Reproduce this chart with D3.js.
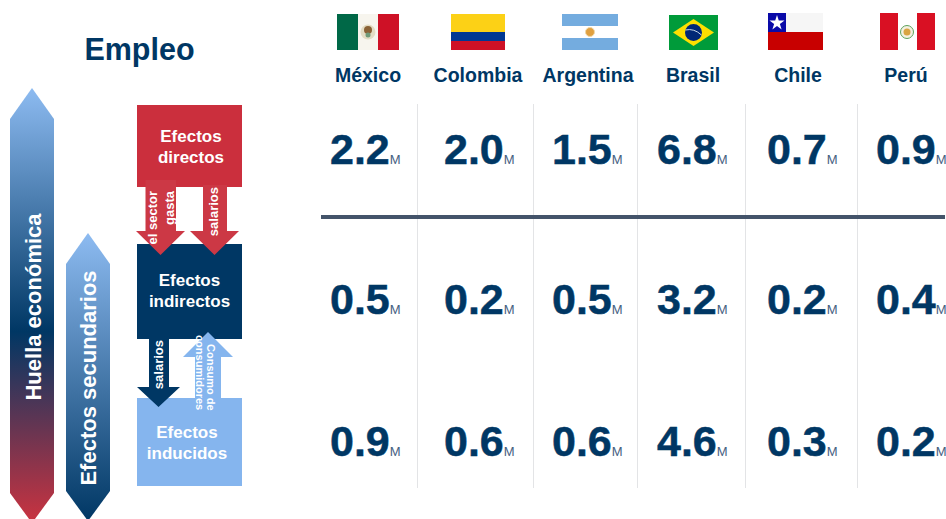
<!DOCTYPE html>
<html>
<head>
<meta charset="utf-8">
<script src="https://cdn.jsdelivr.net/npm/d3@7"></script>
<style>
  html, body { margin: 0; padding: 0; background: #fff; }
  svg { display: block; font-family: "Liberation Sans", Arial, sans-serif; }
  text { font-weight: bold; }
</style>
</head>
<body>
<div id="container"></div>
<script>
let w = 946;
let h = 519;

// data
let countries = ["México", "Colombia", "Argentina", "Brasil", "Chile", "Perú"];
let directos = [2.2, 2.0, 1.5, 6.8, 0.7, 0.9];
let indirectos = [0.5, 0.2, 0.5, 3.2, 0.2, 0.4];
let inducidos = [0.9, 0.6, 0.6, 4.6, 0.3, 0.2];
let rows = ["directos", "indirectos", "inducidos"];
let rowValues = [directos, indirectos, inducidos];

let navy = "#003764";
let red = "#cb2f3d";
let light = "#85b5ee";

// layout
let labelScale = d3.scaleOrdinal().domain(countries).range([368, 478, 588, 693, 798, 906]);
let valueScale = d3.scaleOrdinal().domain(countries).range([330, 444, 552, 657, 767, 876]);
let rowScale = d3.scaleOrdinal().domain(rows).range([164, 314, 456]);

let viz = d3.select("#container").append("svg")
    .attr("width", w)
    .attr("height", h)
    .style("background-color", "white")
;

let defs = viz.append("defs");
let g1 = defs.append("linearGradient").attr("id", "huella").attr("x1", 0).attr("x2", 0).attr("y1", 0).attr("y2", 1);
g1.append("stop").attr("offset", "0%").attr("stop-color", "#8dbbf1");
g1.append("stop").attr("offset", "56%").attr("stop-color", navy);
g1.append("stop").attr("offset", "100%").attr("stop-color", "#cb3340");
let g2 = defs.append("linearGradient").attr("id", "secundarios").attr("x1", 0).attr("x2", 0).attr("y1", 0).attr("y2", 1);
g2.append("stop").attr("offset", "0%").attr("stop-color", "#8dbbf1");
g2.append("stop").attr("offset", "100%").attr("stop-color", navy);

let line = d3.line();

// arrow pointing both ways
function doubleArrow(x0, x1, top, shoulderTop, shoulderBottom, tip){
  let mid = (x0 + x1) / 2;
  return line([[mid, top], [x1, shoulderTop], [x1, shoulderBottom], [mid, tip], [x0, shoulderBottom], [x0, shoulderTop]]) + "Z";
}

// block arrow, goes from y0 to the tip at y1
function blockArrow(s0, s1, h0, h1, y0, yShoulder, y1){
  let mid = (h0 + h1) / 2;
  return line([[s0, y0], [s1, y0], [s1, yShoulder], [h1, yShoulder], [mid, y1], [h0, yShoulder], [s0, yShoulder]]) + "Z";
}

viz.append("path").attr("d", doubleArrow(10, 54, 88, 119, 493, 523)).attr("fill", "url(#huella)");
viz.append("path").attr("d", doubleArrow(66, 110, 233, 264, 491, 521)).attr("fill", "url(#secundarios)");

function verticalText(x, y, angle, str, size, anchor, fill){
  viz.append("text")
    .attr("transform", "translate(" + x + "," + y + ") rotate(" + angle + ")")
    .attr("text-anchor", anchor)
    .attr("font-size", size)
    .attr("fill", fill || "white")
    .text(str);
}

verticalText(41, 307, -90, "Huella económica", 22, "middle");
verticalText(96, 378, -90, "Efectos secundarios", 22, "middle");

viz.append("text")
  .attr("x", 139.5)
  .attr("y", 60)
  .attr("text-anchor", "middle")
  .attr("font-size", 30.5)
  .attr("fill", navy)
  .text("Empleo");

// boxes
viz.append("rect").attr("x", 137).attr("y", 105).attr("width", 105).attr("height", 82).attr("fill", red);
viz.append("rect").attr("x", 137).attr("y", 244).attr("width", 105).attr("height", 95).attr("fill", navy);
viz.append("rect").attr("x", 137).attr("y", 398).attr("width", 105).attr("height", 88).attr("fill", light);

function boxText(cx, y, str){
  viz.append("text")
    .attr("x", cx)
    .attr("y", y)
    .attr("text-anchor", "middle")
    .attr("font-size", 17)
    .attr("fill", "white")
    .text(str);
}
boxText(191, 142, "Efectos");
boxText(191, 163, "directos");
boxText(189.5, 286, "Efectos");
boxText(189.5, 307, "indirectos");
boxText(187, 438, "Efectos");
boxText(187, 459, "inducidos");

// small arrows between boxes
viz.append("path").attr("d", blockArrow(145.5, 176, 136, 185, 180, 231, 255)).attr("fill", "#cc3845");
viz.append("path").attr("d", blockArrow(203, 227, 190, 239, 185, 231, 255)).attr("fill", "#cc3845");
viz.append("path").attr("d", blockArrow(149, 169, 137, 180, 339, 387, 407)).attr("fill", navy);
viz.append("path").attr("d", blockArrow(195, 221, 183, 233, 398, 357, 332)).attr("fill", light);

verticalText(157, 191, -90, "el sector", 13, "end");
verticalText(174, 191, -90, "gasta", 13, "end");
verticalText(218, 187, -90, "salarios", 13, "end");
verticalText(163, 340, -90, "salarios", 13, "end");
verticalText(207, 344, 90, "Consumo de", 11, "start");
verticalText(196, 335, 90, "consumidores", 11, "start");

// flags
let flags = viz.append("g").attr("class", "flags");
function bar(x, y, wd, ht, fill){
  flags.append("rect").attr("x", x).attr("y", y).attr("width", wd).attr("height", ht).attr("fill", fill);
}
function dot(x, y, r, fill, stroke){
  flags.append("circle").attr("cx", x).attr("cy", y).attr("r", r).attr("fill", fill).attr("stroke", stroke || "none");
}
// mexico
bar(337, 14, 21, 36, "#006847");
bar(358, 14, 20, 36, "#f7f5ee");
bar(378, 14, 21, 36, "#ce1126");
dot(368, 32, 7.5, "#e3dcc4");
dot(368, 30, 4, "#8a6236");
dot(368, 35, 2.5, "#6f9a78");
// colombia
bar(451, 14, 54, 18, "#fcd116");
bar(451, 32, 54, 9, "#003893");
bar(451, 41, 54, 9, "#ce1126");
// argentina
bar(562, 14, 56, 12, "#74acdf");
bar(562, 26, 56, 12, "#ffffff");
bar(562, 38, 56, 12, "#74acdf");
dot(590, 32, 4.5, "#e0a040", "#f0d8a8");
// brasil
bar(669, 15, 49, 35, "#009b3a");
flags.append("path").attr("d", line([[673, 32.5], [693.5, 19], [714, 32.5], [693.5, 46]]) + "Z").attr("fill", "#fedf00");
dot(693.5, 32.5, 8.5, "#002776");
flags.append("path").attr("d", "M685.5,30 Q694,28 701.5,35").attr("fill", "none").attr("stroke", "#c8d8e8").attr("stroke-width", 1);
// chile
bar(768, 13, 55, 19, "#f6f6f6");
bar(768, 13, 18, 19, "#0a0aa8");
bar(768, 32, 55, 18, "#c80000");
let star = d3.symbol().type(d3.symbolStar).size(70);
flags.append("path").attr("d", star()).attr("transform", "translate(777,23)").attr("fill", "white");
// peru
bar(880, 13, 55, 37, "#ffffff");
bar(880, 13, 18, 37, "#d91023");
bar(917, 13, 18, 37, "#d91023");
dot(907, 32, 6.5, "#f4f0e0", "#5da25d");
dot(907, 32, 3.5, "#d9a441");

// country names
viz.selectAll(".country").data(countries).enter()
  .append("text")
    .attr("class", "country")
    .attr("x", d => labelScale(d))
    .attr("y", 82)
    .attr("text-anchor", "middle")
    .attr("font-size", 19.5)
    .attr("fill", navy)
    .text(d => d);

// column separators
let seps = [417, 533, 637, 745, 857];
viz.selectAll(".sep").data(seps).enter()
  .append("line")
    .attr("class", "sep")
    .attr("x1", d => d + 0.5)
    .attr("x2", d => d + 0.5)
    .attr("y1", 104)
    .attr("y2", 488)
    .attr("stroke", "#e3e4e6")
    .attr("stroke-width", 1);

viz.append("rect")
  .attr("x", 321)
  .attr("y", 215)
  .attr("width", 624)
  .attr("height", 4)
  .attr("fill", "#44546a");

// values
rows.forEach(function(row, i){
  let t = viz.selectAll(".v" + row).data(rowValues[i]).enter()
    .append("text")
      .attr("class", "v" + row)
      .attr("x", (d, j) => valueScale(countries[j]))
      .attr("y", rowScale(row));
  t.append("tspan")
    .attr("font-size", 43)
    .attr("fill", navy)
    .attr("stroke", navy)
    .attr("stroke-width", 0.5)
    .text(d => d.toFixed(1));
  t.append("tspan")
    .attr("font-size", 13)
    .attr("font-weight", "normal")
    .attr("fill", "#44607f")
    .text("M");
});
</script>
</body>
</html>
